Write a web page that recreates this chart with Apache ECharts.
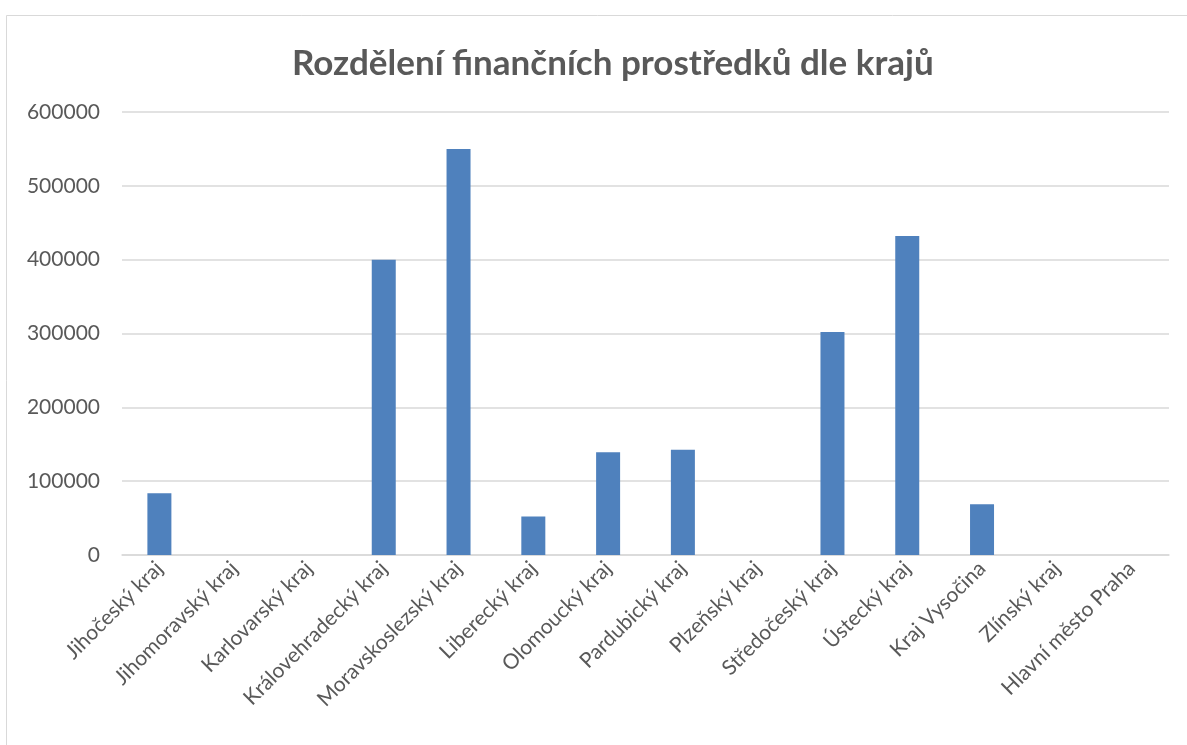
<!DOCTYPE html>
<html>
<head>
<meta charset="utf-8">
<script src="https://cdn.jsdelivr.net/npm/echarts@6/dist/echarts.min.js"></script>
<style>
html,body{margin:0;padding:0;background:#fff;}
#chart{width:1187px;height:745px;}
</style>
</head>
<body>
<div id="chart"></div>
<script>
const categories = ["Jihočeský kraj","Jihomoravský kraj","Karlovarský kraj","Královehradecký kraj","Moravskoslezský kraj","Liberecký kraj","Olomoucký kraj","Pardubický kraj","Plzeňský kraj","Středočeský kraj","Ústecký kraj","Kraj Vysočina","Zlínský kraj","Hlavní město Praha"];
const values = [83500, 0, 0, 400000, 550000, 52000, 139000, 142700, 0, 302000, 432000, 68700, 0, 0];
const yTicks = [0, 100000, 200000, 300000, 400000, 500000, 600000];
const titleText = "Rozdělení finančních prostředků dle krajů";

const chart = echarts.init(document.getElementById('chart'));
chart.setOption({
  animation: false,
  backgroundColor: '#ffffff',
  graphic: [{
    type: 'rect', left: 4, top: 13,
    shape: { width: 1190, height: 760 },
    style: { fill: 'none', stroke: '#d9d9d9', lineWidth: 1 }
  }],
  title: {
    text: titleText, left: 287, top: 41,
    textStyle: { fontFamily: 'Lato', fontSize: 35, fontWeight: 'bold', color: '#595959' }
  },
  grid: { left: 122, right: 18, top: 112, bottom: 190 },
  xAxis: {
    type: 'category', data: categories,
    axisLine: { lineStyle: { color: '#d9d9d9', width: 1.5 } },
    axisTick: { show: false },
    axisLabel: { rotate: 45, interval: 0, margin: 10, fontFamily: 'Lato', fontSize: 21, color: '#595959' }
  },
  yAxis: {
    type: 'value', min: yTicks[0], max: yTicks[yTicks.length - 1], interval: 100000,
    axisLine: { show: false }, axisTick: { show: false },
    splitLine: { lineStyle: { color: '#d9d9d9', width: 1.5 } },
    axisLabel: { margin: 22, fontFamily: 'Lato', fontSize: 21, color: '#595959', formatter: function (v) { return String(v); } }
  },
  series: [{
    type: 'bar', data: values, barWidth: 24,
    itemStyle: { color: '#4f81bd' }
  }]
});
</script>
</body>
</html>
